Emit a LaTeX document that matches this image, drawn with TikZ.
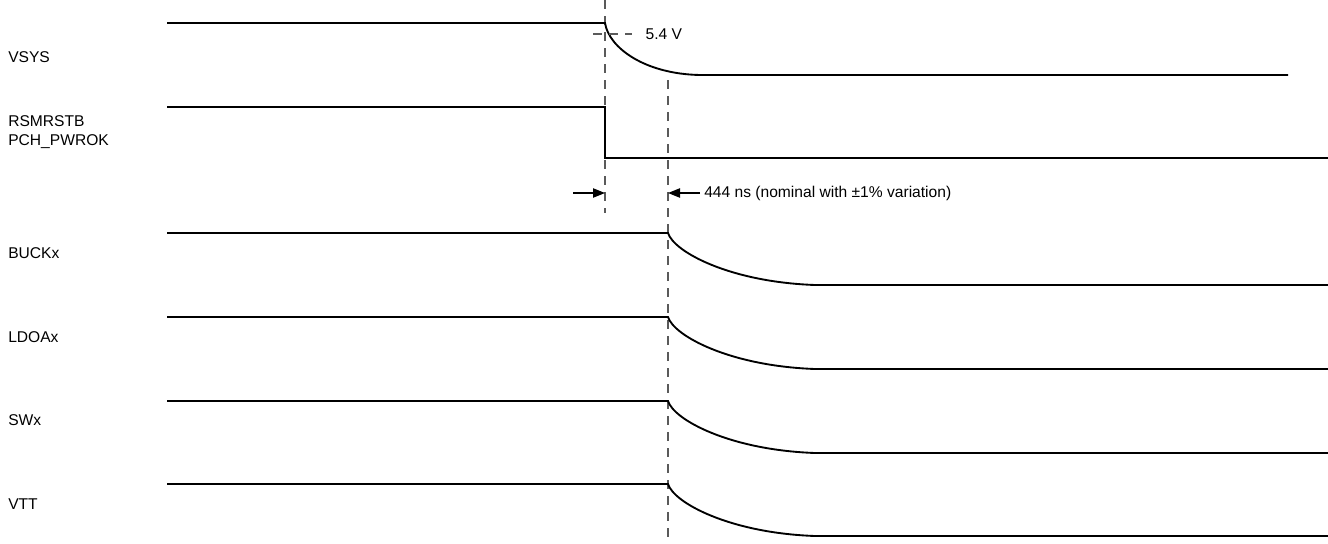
\documentclass[tikz,border=0pt]{standalone}
\usepackage{fontspec}
\setmainfont{Liberation Sans}
\usetikzlibrary{arrows.meta,positioning}
\definecolor{tdgray}{RGB}{90,90,90}

\begin{document}
\begin{tikzpicture}[x=0.75pt, y=-0.75pt, font=\fontsize{11.7}{14}\selectfont,
  sig/.style={black, line width=1.4pt},
  guide/.style={tdgray, line width=0.9pt, dash pattern=on 7pt off 5pt},
  lbl/.style={anchor=west, inner sep=0pt, align=left}]
\useasboundingbox (0,0) rectangle (1328,543);
% signal names
\node[lbl] (vsys) at (8,57) {VSYS};
\node[lbl] (rsm) at (8,132) {RSMRSTB\\PCH\_PWROK};
\node[lbl] (buck) at (8,253) {BUCKx};
\node[lbl] (ldo) at (8,337) {LDOAx};
\node[lbl] (sw) at (8,420) {SWx};
\node[lbl] (vtt) at (8,504) {VTT};
% guide lines
\coordinate (t1top) at (605,0);
\coordinate (t1bot) at (605,213);
\coordinate (t2top) at (668,80);
\coordinate (t2bot) at (668,543);
\draw[guide] (t1top) -- (t1bot);
\draw[guide] (t2top) -- (t2bot);
% VSYS
\draw[sig] (167,23) -- (605,23) .. controls (609,48) and (645,74) .. (700,75) -- (1288,75);
\coordinate (thl) at (593,34);
\coordinate (thr) at (632,34);
\draw[guide] (thl) -- (thr);
\node[lbl, right=10pt of thr] (thv) {5.4 V};
% RSMRSTB / PCH_PWROK
\draw[sig] (167,107) -- (605,107) -- (605,158) -- (1328,158);
% delay
\coordinate (d1) at (573,193);
\coordinate (d2) at (700,193);
\draw[-{Triangle[length=9pt,width=7pt]}, line width=0.9pt] (d1) -- (t1top |- d1);
\draw[-{Triangle[length=9pt,width=7pt]}, line width=0.9pt] (d2) -- (t2top |- d2);
\node[lbl, right=3pt of d2] (dly) {444 ns (nominal with ±1\% variation)};
% rails
\foreach \y in {233,317,401,484}
  \draw[sig] (167,\y) -- (668,\y) .. controls (674,\y+19) and (730,\y+49) .. (815,\y+52) -- (1328,\y+52);
\end{tikzpicture}
\end{document}
